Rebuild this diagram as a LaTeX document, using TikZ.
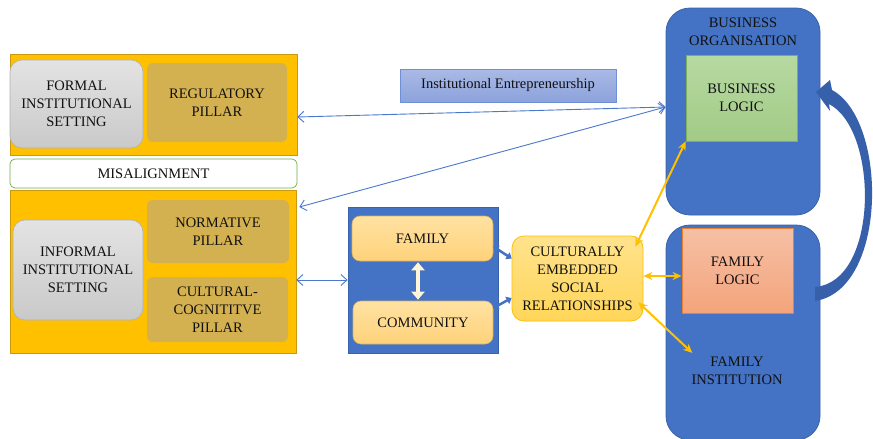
\documentclass[tikz,border=0pt]{standalone}
\usepackage{fontspec}
\setmainfont{Liberation Serif}
\usetikzlibrary{arrows.meta,calc}
\definecolor{orng}{HTML}{FFC000}
\definecolor{orngdk}{HTML}{C99A10}
\definecolor{pillar}{HTML}{D4B150}
\definecolor{bblue}{HTML}{4472C4}
\definecolor{bbluedk}{HTML}{3A62A8}
\definecolor{arrblue}{HTML}{3760AB}
\definecolor{lineblue}{HTML}{4A78CC}
\definecolor{gborder}{HTML}{70AD47}
\definecolor{txt}{HTML}{111111}
\definecolor{fctop}{HTML}{FFE2A2}
\definecolor{fcbot}{HTML}{FFD27A}
\definecolor{fcdraw}{HTML}{D8B060}
\definecolor{bltop}{HTML}{B7D9A2}
\definecolor{blbot}{HTML}{A2CB86}
\definecolor{bldraw}{HTML}{7DAF5C}
\newcommand\lbl{\fontsize{14.5}{18}\selectfont}
\tikzset{
  base/.style={inner sep=0pt, align=center, font=\lbl, text=txt},
  obox/.style={base, fill=orng, draw=orngdk, line width=0.6pt},
  gbox/.style={base, top color=gray!22, bottom color=gray!42, draw=gray!60, line width=0.6pt, rounded corners=12pt},
  pbox/.style={base, fill=pillar, rounded corners=6pt},
  mbox/.style={base, fill=white, draw=gborder, line width=0.7pt, rounded corners=5pt},
  bluebox/.style={base, fill=bblue, draw=bbluedk, line width=0.7pt},
  bigbox/.style={base, fill=bblue, draw=bbluedk, line width=0.8pt, rounded corners=24pt},
  fcbox/.style={base, top color=fctop, bottom color=fcbot, draw=fcdraw, line width=0.6pt, rounded corners=8pt},
  cebox/.style={base, top color=orng!45, bottom color=orng!65, draw=orng, line width=0.8pt, rounded corners=12pt},
  blbox/.style={base, top color=bltop, bottom color=blbot, draw=bldraw, line width=0.7pt},
  flbox/.style={base, top color={rgb,255:red,245;green,192;blue,165}, bottom color={rgb,255:red,244;green,164;blue,124}, draw={rgb,255:red,237;green,125;blue,49}, line width=0.8pt},
  iebox/.style={base, top color={rgb,255:red,170;green,186;blue,230}, bottom color={rgb,255:red,140;green,162;blue,219}, draw={rgb,255:red,111;green,143;blue,214}, line width=0.7pt},
  plain/.style={base},
  thinarr/.style={draw=lineblue, line width=0.9pt, {Straight Barb[length=6pt,width=11pt]}-{Straight Barb[length=6pt,width=11pt]}},
  yarr/.style={draw=orng, line width=2pt, {Stealth[length=9pt,width=8pt]}-{Stealth[length=9pt,width=8pt]}},
  barr/.style={draw=bblue, line width=2.5pt, {Triangle[length=5pt,width=8pt]}-{Triangle[length=5pt,width=8pt]}},
  warr/.style={draw={rgb,255:red,255;green,245;blue,215}, line width=3.5pt, {Triangle[length=8pt,width=13pt]}-{Triangle[length=8pt,width=13pt]}},
}
\begin{document}
\begin{tikzpicture}[x=1pt,y=-1pt]
\useasboundingbox (0,0) rectangle (873,439);
\fill[white] (0,0) rectangle (873,439);

% left side
\node[obox, minimum width=287, minimum height=101] (topor) at (153.5,104.5) {};
\node[gbox, minimum width=133, minimum height=88] (formal) at (76.5,104) {FORMAL\\INSTITUTIONAL\\SETTING};
\node[pbox, minimum width=140, minimum height=79] (reg) at (217,102.5) {REGULATORY\\PILLAR};
\node[mbox, minimum width=287, minimum height=29] (mis) at (153.5,173.5) {MISALIGNMENT};
\node[obox, minimum width=286, minimum height=163] (botor) at (153,271.5) {};
\node[gbox, minimum width=130, minimum height=100] (informal) at (78,270) {INFORMAL\\INSTITUTIONAL\\SETTING};
\node[pbox, minimum width=142, minimum height=63] (norm) at (218,231.5) {NORMATIVE\\PILLAR};
\node[pbox, minimum width=141, minimum height=65] (cult) at (217.5,309.5) {CULTURAL-\\COGNITITVE\\PILLAR};

% middle
\node[iebox, minimum width=216, minimum height=33] (ie) at (508,85.5) {Institutional Entrepreneurship};
\node[bluebox, minimum width=150, minimum height=146] (blue) at (423,280) {};
\node[fcbox, minimum width=141, minimum height=45] (fam) at (422.5,238.5) {FAMILY};
\node[fcbox, minimum width=140, minimum height=43] (com) at (423,322.5) {COMMUNITY};
\node[cebox, minimum width=131, minimum height=85] (ce) at (577.5,278.5) {CULTURALLY\\EMBEDDED\\SOCIAL\\RELATIONSHIPS};

% right
\node[bigbox, minimum width=154, minimum height=207] (bizorg) at (743,111.5) {};
\node[plain, text=txt] (bizorgt) at (743,31.5) {BUSINESS\\ORGANISATION};
\node[blbox, minimum width=111, minimum height=86] (bizlog) at (741.5,98) {BUSINESS\\LOGIC};
\node[bigbox, minimum width=154, minimum height=215] (faminst) at (743,332.5) {};
\node[flbox, minimum width=111, minimum height=85] (famlog) at (737.5,270.5) {FAMILY\\LOGIC};
\node[plain] (faminstt) at (737,371) {FAMILY\\INSTITUTION};

% big curved arrow
\fill[arrblue] (815,301) .. controls (888,290) and (888,120) .. (832,90)
  -- (830,80) -- (816,92) -- (830,111) -- (829,104)
  .. controls (879,130) and (879,282) .. (815,287) -- cycle;

% thin blue connectors
\coordinate (bw) at ([yshift=4.5pt]bizorg.west);
\draw[thinarr] ([yshift=-12.5pt]topor.east) -- (bw);
\draw[thinarr] ([xshift=3pt,yshift=64.5pt]botor.east) -- (bw);
\draw[thinarr] (botor.east |- blue.west) -- (blue.west);

% family/community arrows
\draw[barr] ([yshift=-8pt]fam.east) -- ([yshift=20pt]ce.west);
\draw[barr] ([yshift=14.5pt]com.east) -- ([yshift=-19.5pt]ce.west);
\draw[warr] ([xshift=-4.5pt,yshift=-1pt]fam.south) -- ([xshift=-5pt,yshift=1pt]com.north);

% yellow arrows
\draw[yarr] ([xshift=-8pt,yshift=-11pt]ce.north east) -- (bizlog.south west);
\draw[yarr] ([yshift=2.5pt]ce.east) -- ([yshift=2.5pt]ce.east -| famlog.west);
\draw[yarr] ([xshift=-5pt,yshift=19pt]ce.south east) -- ([xshift=1pt,yshift=4pt]faminstt.north west);
\end{tikzpicture}
\end{document}
